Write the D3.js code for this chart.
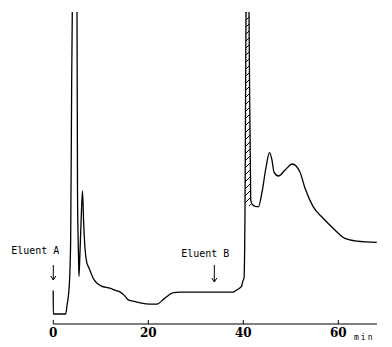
<!DOCTYPE html>
<html>
<head>
<meta charset="utf-8">
<script src="https://cdn.jsdelivr.net/npm/d3@7"></script>
<style>
  body { margin: 0; background: #fff; }
</style>
</head>
<body>
<div id="chart"></div>
<script>
// chromatogram trace (time in min, detector signal in arbitrary units)
var minutes = [-0.02, 0, 2.6, 2.9, 3.37, 3.66, 3.87, 4.0, 4.5, 4.99, 5.1, 5.3, 5.41, 5.56, 5.83, 6.15, 6.4, 6.67,
  7.03, 7.5, 8.2, 8.78, 9.4, 10.04, 11.9, 13.4, 14.0, 14.9, 15.8, 16.8, 18.3, 20.4, 21.8, 23.5, 25.3, 26.7, 37.8, 38.6,
  39.66, 39.87, 40.15, 40.36, 40.57, 40.9, 41.2, 41.56, 41.9, 42.5, 43.2, 43.9, 44.8, 45.5, 46.04, 46.46, 47.4,
  48.8, 50.3, 51.9, 53.0, 54.7, 56.8, 58.9, 61.4, 63.9, 68.1];
var signal = [7.8, 0, 0, 3, 9.7, 25, 78, 101, 140, 101, 40, 20, 12.5, 18, 30, 41, 30, 22,
  17.3, 15.4, 12.6, 11.0, 10.0, 9.4, 8.6, 7.7, 7.4, 6.3, 4.7, 4.3, 3.7, 3.3, 3.3, 5.3, 7.1, 7.3, 7.3, 8,
  9.3, 10.8, 12, 34.7, 101, 140, 101, 38, 36.5, 35.9, 35.8, 40.3, 49, 53.8, 51.3, 47.3, 46,
  48, 50, 47.4, 41.9, 35.8, 31.9, 28.6, 25.2, 24.3, 23.9];

var tickValues = [0, 20, 40, 60];
var eluentNames = ["Eluent A", "Eluent B"];
var eluentTimes = [0, 33.9];
var hatchRange = [40.1, 41.7];   // shaded peak
var hatchBase = 36;

var width = 392, height = 347;
var data = minutes.map(function(t, i) { return {t: t, v: signal[i]}; });

var x = d3.scaleLinear().domain([0, 60]).range([53.3, 338.3]);
var y = d3.scaleLinear().domain([0, 100]).range([314, 14]);
var axisY = 324;

var svg = d3.select("#chart").append("svg")
  .attr("width", width)
  .attr("height", height)
  .style("background", "#fff");

var defs = svg.append("defs");
defs.append("clipPath").attr("id", "plotClip")
  .append("rect")
  .attr("x", 0).attr("y", 12)
  .attr("width", width).attr("height", height - 12);

var pat = defs.append("pattern")
  .attr("id", "hatch")
  .attr("patternUnits", "userSpaceOnUse")
  .attr("width", 7).attr("height", 7);
pat.append("path")
  .attr("d", "M-1,8 L8,-1")
  .attr("stroke", "#000")
  .attr("stroke-width", 1);

var plot = svg.append("g").attr("clip-path", "url(#plotClip)");

// hatched peak at ~40 min
var hatchData = data.filter(function(d) { return d.t >= hatchRange[0] && d.t <= hatchRange[1]; });
plot.append("path")
  .datum(hatchData)
  .attr("fill", "url(#hatch)")
  .attr("d", d3.area()
    .curve(d3.curveMonotoneX)
    .x(function(d) { return x(d.t); })
    .y0(function(d) { return y(Math.min(d.v, hatchBase)); })
    .y1(function(d) { return y(d.v); }));

// trace
plot.append("path")
  .datum(data)
  .attr("fill", "none")
  .attr("stroke", "#000")
  .attr("stroke-width", 1.3)
  .attr("stroke-linejoin", "round")
  .attr("d", d3.line()
    .curve(d3.curveMonotoneX)
    .x(function(d) { return x(d.t); })
    .y(function(d) { return y(d.v); }));

// x axis
var axis = svg.append("g");
axis.append("line")
  .attr("x1", x(0)).attr("x2", x(68.15))
  .attr("y1", axisY).attr("y2", axisY)
  .attr("stroke", "#000").attr("stroke-width", 1);
axis.selectAll(".tick").data(tickValues).enter().append("line")
  .attr("class", "tick")
  .attr("x1", function(d) { return x(d); }).attr("x2", function(d) { return x(d); })
  .attr("y1", axisY).attr("y2", axisY - 4)
  .attr("stroke", "#000").attr("stroke-width", 1);
axis.selectAll(".lbl").data(tickValues).enter().append("text")
  .attr("class", "lbl")
  .attr("x", function(d) { return x(d); })
  .attr("y", 337)
  .attr("text-anchor", "middle")
  .attr("font-family", "DejaVu Serif")
  .attr("font-weight", "bold")
  .attr("font-size", 12)
  .text(function(d) { return d; });
axis.append("text")
  .attr("x", 354)
  .attr("y", 340)
  .attr("font-family", "DejaVu Sans Mono")
  .attr("font-size", 8)
  .attr("letter-spacing", 2)
  .text("min");

// eluent markers
var offs = [{tx: 6, ty: 253.5, y1: 265, y2: 280}, {tx: 15, ty: 257, y1: 265, y2: 282}];
eluentNames.forEach(function(name, i) {
  var ax = x(eluentTimes[i]);
  var o = offs[i];
  svg.append("text")
    .attr("x", ax + o.tx)
    .attr("y", o.ty)
    .attr("text-anchor", "end")
    .attr("font-family", "DejaVu Sans Mono")
    .attr("font-size", 10)
    .text(name);
  svg.append("path")
    .attr("d", "M" + ax + "," + o.y1 + " L" + ax + "," + o.y2 +
      " M" + (ax - 2.5) + "," + (o.y2 - 4) + " L" + ax + "," + o.y2 + " L" + (ax + 2.5) + "," + (o.y2 - 4))
    .attr("fill", "none")
    .attr("stroke", "#000")
    .attr("stroke-width", 1);
});
</script>
</body>
</html>
